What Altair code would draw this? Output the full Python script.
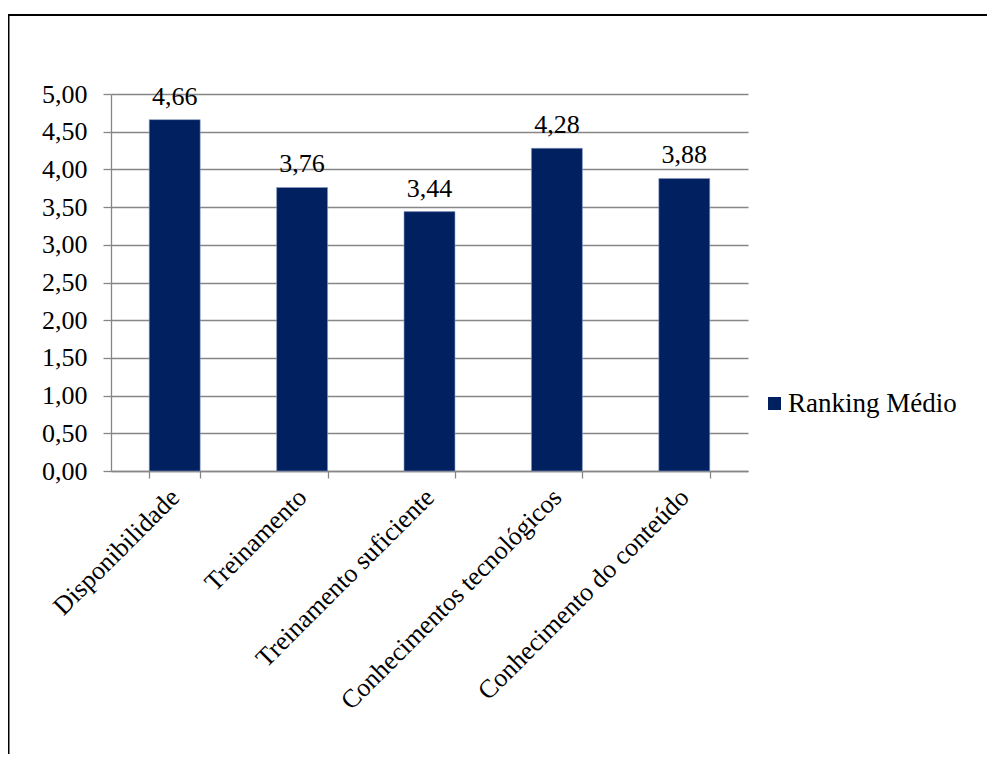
import altair as alt
import pandas as pd

categories = ["Disponibilidade", "Treinamento", "Treinamento suficiente",
              "Conhecimentos tecnológicos", "Conhecimento do conteúdo"]
values = [4.66, 3.76, 3.44, 4.28, 3.88]
series_name = "Ranking Médio"
y_ticks = [0, 0.5, 1, 1.5, 2, 2.5, 3, 3.5, 4, 4.5, 5]

FONT = "Liberation Serif"
FS = 26
BAR = "#002060"
GRID = "#868686"

df = pd.DataFrame({"cat": categories, "val": values, "series": [series_name] * len(values)})
df["lbl"] = [f"{v:.2f}".replace(".", ",") for v in values]

x_enc = alt.X("cat:N", sort=categories,
              scale=alt.Scale(paddingInner=0.6, paddingOuter=0.3),
              axis=alt.Axis(title=None, labelAngle=-45, labelAlign="right",
                            labelBaseline="middle", labelPadding=15,
                            tickBand="extent", tickSize=7, labelLimit=500,
                            labelOverlap=False))
y_enc = alt.Y("val:Q", scale=alt.Scale(domain=[0, 5], nice=False, zero=True),
              axis=alt.Axis(title=None, values=y_ticks, grid=True, tickSize=8,
                            labelPadding=16, labelOverlap=False,
                            labelExpr="replace(format(datum.value, '.2f'), '.', ',')"))

bars = alt.Chart(df).mark_bar(stroke="#8a9cc2", strokeWidth=0.6).encode(
    x=x_enc,
    y=y_enc,
    color=alt.Color("series:N", scale=alt.Scale(range=[BAR]),
                    legend=alt.Legend(title=None, orient="none", legendX=650, legendY=296,
                                      symbolType="square", symbolSize=169,
                                      symbolStrokeWidth=0, labelFont=FONT,
                                      labelFontSize=27, labelColor="black",
                                      labelLimit=400, padding=0, labelOffset=0)),
)

text = alt.Chart(df).mark_text(dy=-15, baseline="alphabetic", font=FONT,
                               fontSize=FS, color="black").encode(
    x=x_enc,
    y=y_enc,
    text="lbl:N",
)

frame = alt.Chart(pd.DataFrame({"a": [0]})).mark_rect(
    fillOpacity=0, stroke="black", strokeWidth=2, clip=False
).encode(
    x=alt.value(-102.5), x2=alt.value(3000),
    y=alt.value(-79), y2=alt.value(3000),
)

chart = alt.layer(bars, text, frame).properties(
    width=637, height=377,
    autosize=alt.AutoSizeParams(type="none"),
    padding={"left": 103, "top": 86, "right": 239, "bottom": 283},
).configure_view(stroke=None).configure_axis(
    domainColor=GRID, tickColor=GRID, gridColor=GRID, gridWidth=1.3,
    domainWidth=1.3, tickWidth=1.3,
    labelFont=FONT, labelFontSize=FS, labelColor="black",
)

chart.save("out.html", embed_options={"renderer": "svg", "actions": False})
